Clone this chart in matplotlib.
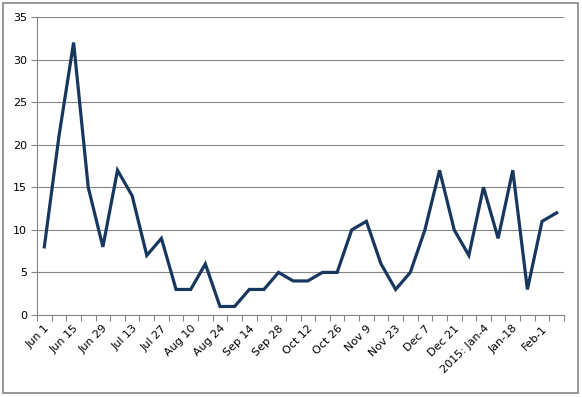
import matplotlib
matplotlib.use("Agg")
import matplotlib.pyplot as plt
from matplotlib.patches import Rectangle
import numpy as np

# weekly categories (every second one is labelled)
weeks = ["Jun 1", "Jun 8", "Jun 15", "Jun 22", "Jun 29", "Jul 6", "Jul 13", "Jul 20",
         "Jul 27", "Aug 3", "Aug 10", "Aug 17", "Aug 24", "Sep 7", "Sep 14", "Sep 21",
         "Sep 28", "Oct 5", "Oct 12", "Oct 19", "Oct 26", "Nov 2", "Nov 9", "Nov 16",
         "Nov 23", "Nov 30", "Dec 7", "Dec 14", "Dec 21", "Dec 28", "2015: Jan-4",
         "Jan-11", "Jan-18", "Jan-25", "Feb-1", "Feb-8"]
counts = [8, 21, 32, 15, 8, 17, 14, 7, 9, 3, 3, 6, 1, 1, 3, 3, 5, 4, 4, 5, 5, 10,
          11, 6, 3, 5, 10, 17, 10, 7, 15, 9, 17, 3, 11, 12]
yticks = [0, 5, 10, 15, 20, 25, 30, 35]

grey = "#868686"
navy = "#17375E"

fig = plt.figure(figsize=(5.82, 3.97), dpi=100)
fig.patches.append(Rectangle((3 / 582, 4 / 397), 575 / 582, 390 / 397,
                             transform=fig.transFigure, fill=False,
                             edgecolor=grey, linewidth=1.2))

ax = fig.add_axes([37 / 582, 82 / 397, 527 / 582, 298 / 397])
x = np.arange(len(weeks))
ax.plot(x, counts, color=navy, linewidth=2.3, solid_joinstyle="miter", zorder=3)

ax.set_xlim(-0.5, len(weeks) - 0.5)
ax.set_ylim(0, 35)
ax.set_yticks(yticks)
ax.yaxis.grid(True, color=grey, linewidth=0.8)
ax.set_axisbelow(True)

for s in ["top", "right"]:
    ax.spines[s].set_visible(False)
for s in ["left", "bottom"]:
    ax.spines[s].set_color(grey)
    ax.spines[s].set_linewidth(0.8)

# category boundaries get the tick marks, labels sit on every second category
ax.set_xticks(np.arange(-0.5, len(weeks), 1.0), minor=True)
ax.set_xticks(x[::2])
ax.set_xticklabels(weeks[::2], rotation=45, ha="right", va="top",
                   rotation_mode="anchor", fontsize=8)
ax.tick_params(axis="x", which="major", length=0, pad=6)
ax.tick_params(axis="x", which="minor", length=4, color=grey, width=0.8)
ax.tick_params(axis="y", length=4, color=grey, width=0.8, labelsize=8, pad=3)

fig.savefig("out.png", dpi=100)
